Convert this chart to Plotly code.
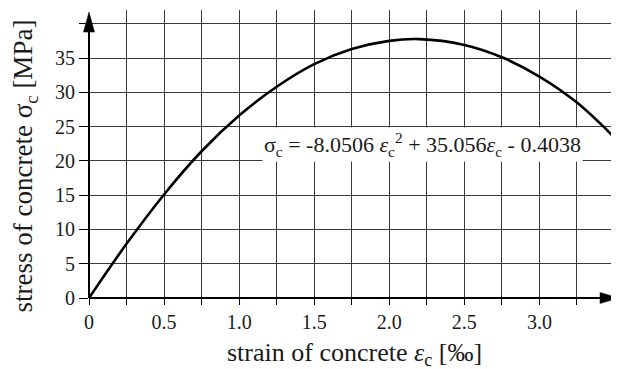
import plotly.graph_objects as go

# strain of concrete [‰] and stress of concrete [MPa]
strain = [0.0, 0.25, 0.5, 0.75, 1.0, 1.25, 1.5, 1.75, 2.0, 2.2, 2.5, 2.75, 3.0, 3.25, 3.5]
stress = [0.0, 7.9, 15.1, 21.4, 26.6, 30.8, 34.1, 36.3, 37.5, 37.75, 36.9, 35.1, 32.3, 28.5, 23.4]

x_tickvals = [0, 0.5, 1.0, 1.5, 2.0, 2.5, 3.0]
x_ticktext = ["0", "0.5", "1.0", "1.5", "2.0", "2.5", "3.0"]
y_tickvals = [0, 5, 10, 15, 20, 25, 30, 35, 40]
y_ticktext = ["0", "5", "10", "15", "20", "25", "30", "35", ""]

FONT = "Liberation Serif"
GRID = "#3a3a3a"
TXT = "#1a1a1a"

fig = go.Figure()
fig.add_trace(go.Scatter(x=strain, y=stress, mode="lines",
                         line=dict(color="black", width=2.6, shape="spline"),
                         showlegend=False, hoverinfo="skip", cliponaxis=True))

# page body has an 8px margin, so the figure is 8px smaller on each axis
fig.update_layout(
    width=611, height=361,
    margin=dict(l=81, r=0, t=2, b=71),
    paper_bgcolor="white", plot_bgcolor="white",
    font=dict(family=FONT, color=TXT, size=20),
    xaxis=dict(range=[0, 3.53], tickvals=x_tickvals, ticktext=x_ticktext,
               automargin=False,
               showgrid=True, gridcolor=GRID, gridwidth=1,
               ticks="outside", ticklen=6, tickwidth=1.2, tickcolor="black",
               minor=dict(dtick=0.25, tick0=0, showgrid=True, gridcolor=GRID, gridwidth=1,
                          ticks="outside", ticklen=6, tickwidth=1.2, tickcolor="black"),
               showline=False, zeroline=False,
               tickfont=dict(size=20, family=FONT, color=TXT)),
    yaxis=dict(range=[0, 42], tickvals=y_tickvals, ticktext=y_ticktext,
               automargin=False,
               showgrid=True, gridcolor=GRID, gridwidth=1,
               ticks="outside", ticklen=9, tickwidth=1.2, tickcolor="black",
               showline=False, zeroline=False,
               tickfont=dict(size=20, family=FONT, color=TXT)),
)

# axis titles
fig.add_annotation(x=0.5, y=-0.195, xref="paper", yref="paper", showarrow=False,
                   xanchor="center", yanchor="middle",
                   text="strain of concrete <i>ε</i><sub>c</sub> [‰]",
                   font=dict(size=26, family=FONT, color=TXT))
fig.add_annotation(x=-0.12, y=0.458, xref="paper", yref="paper", showarrow=False,
                   xanchor="center", yanchor="middle", textangle=-90,
                   text="stress of concrete σ<sub>c</sub> [MPa]",
                   font=dict(size=27, family=FONT, color=TXT))

# axis lines with arrowheads (decoration, paper coordinates)
fig.add_shape(type="line", xref="paper", yref="paper", x0=0, x1=0.97, y0=0, y1=0,
              line=dict(color="black", width=2))
fig.add_shape(type="line", xref="paper", yref="paper", x0=0, x1=0, y0=0, y1=0.95,
              line=dict(color="black", width=2))
fig.add_shape(type="path", xref="paper", yref="paper",
              path="M1,0 L0.9642,0.0191 L0.9642,-0.0191 Z",
              fillcolor="black", line=dict(color="black", width=0.5))
fig.add_shape(type="path", xref="paper", yref="paper",
              path="M0,0.9929 L-0.0104,0.9234 L0.0104,0.9234 Z",
              fillcolor="black", line=dict(color="black", width=0.5))

fig.add_annotation(x=2.22, y=22.4, xref="x", yref="y", showarrow=False,
                   text="σ<sub>c</sub> = -8.0506 <i>ε</i><sub>c</sub><sup>2</sup> + 35.056<i>ε</i><sub>c</sub> - 0.4038",
                   font=dict(size=22, family=FONT, color=TXT),
                   bgcolor="white", borderpad=1)

fig.write_html("out.html")
